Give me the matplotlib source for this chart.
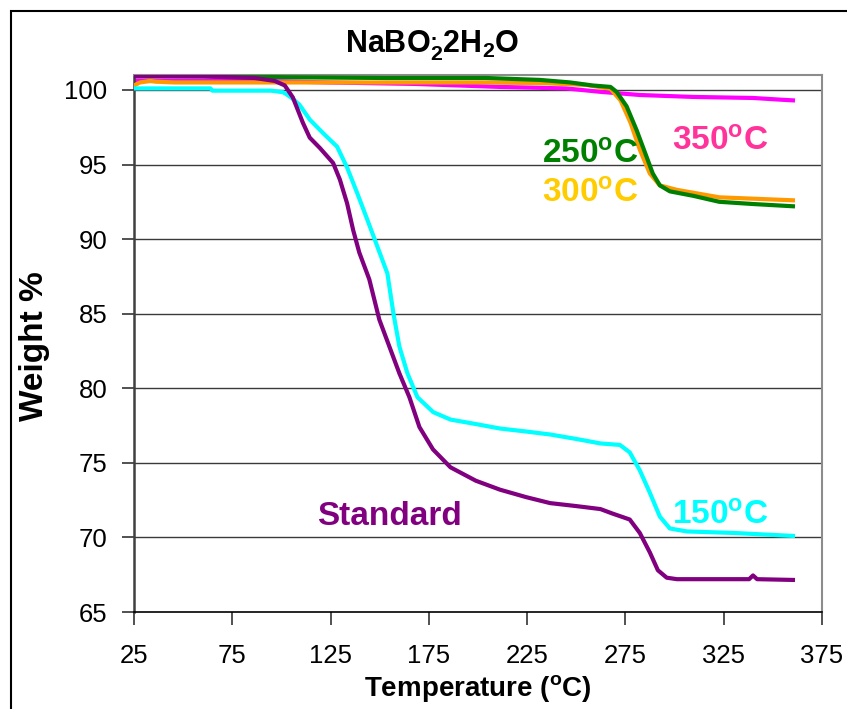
import matplotlib
matplotlib.use("Agg")
import matplotlib.pyplot as plt
from matplotlib.patches import Rectangle

plt.rcParams['font.family'] = ['Liberation Sans', 'DejaVu Sans']
plt.rcParams['mathtext.fontset'] = 'custom'
plt.rcParams['mathtext.rm'] = 'Liberation Sans'
plt.rcParams['mathtext.bf'] = 'Liberation Sans:bold'
plt.rcParams['mathtext.it'] = 'Liberation Sans:italic'

# ---- data ----
std_T = [25, 60.8, 86.4, 96.6, 101.7, 105.8, 110.9, 114.4, 119.6, 126.3, 129.7, 133.4, 136.5,
         139.6, 144.7, 149.8, 154.9, 160.0, 165.1, 170.2, 177.1, 186.0, 198.9, 211.2, 224.5,
         236.7, 250.0, 262.3, 268.4, 277.2, 282.3, 287.4, 291.5, 296.0, 301.2, 316.5, 337.9,
         339.9, 342.0, 360.2]
std_W = [100.9, 100.9, 100.8, 100.6, 100.3, 99.5, 97.8, 96.8, 96.1, 95.1, 94.0, 92.4, 90.6,
         89.1, 87.3, 84.6, 82.8, 81.0, 79.4, 77.4, 75.9, 74.7, 73.8, 73.2, 72.7, 72.3, 72.1,
         71.9, 71.6, 71.2, 70.3, 69.0, 67.8, 67.3, 67.2, 67.2, 67.2, 67.45, 67.2, 67.15]

c150_T = [25, 63.9, 64.9, 94.6, 100.7, 102.7, 105.8, 109.2, 114.5, 121.2, 128.3, 133.4, 138.5,
          143.7, 148.8, 153.9, 157.0, 160.0, 164.1, 169.2, 177.2, 186.0, 198.9, 211.2, 224.5,
          236.7, 250.0, 262.3, 272.2, 277.2, 282.3, 287.4, 292.5, 297.6, 306.3, 329.8, 360.2]
c150_W = [100.1, 100.1, 99.95, 99.95, 99.85, 99.7, 99.4, 99.0, 98.0, 97.1, 96.2, 94.8, 93.1,
          91.3, 89.5, 87.7, 85.0, 82.8, 81.0, 79.4, 78.4, 77.9, 77.6, 77.3, 77.1, 76.9, 76.6,
          76.3, 76.2, 75.7, 74.5, 73.0, 71.4, 70.6, 70.4, 70.3, 70.1]

c250_T = [25, 76.1, 101.7, 152.9, 204.0, 231.6, 247.0, 258.2, 267.4, 270.5, 275.6, 280.7,
          285.8, 288.9, 292.5, 297.6, 309.5, 322.7, 340.0, 360.2]
c250_W = [100.95, 100.9, 100.85, 100.8, 100.8, 100.67, 100.5, 100.3, 100.2, 99.87, 98.9, 97.3,
          95.5, 94.4, 93.6, 93.2, 92.9, 92.5, 92.35, 92.2]

c300_T = [25, 28.1, 33.2, 36.3, 45.5, 101.7, 152.9, 204.0, 234.7, 255.2, 267.4, 272.5, 277.6,
          282.3, 287.4, 292.5, 301.2, 322.7, 360.2]
c300_W = [100.3, 100.5, 100.6, 100.55, 100.5, 100.5, 100.5, 100.5, 100.45, 100.33, 100.07,
          99.3, 97.8, 96.0, 94.4, 93.6, 93.3, 92.8, 92.6]

c350_T = [25, 91.5, 124.2, 168.2, 211.2, 244.9, 262.3, 282.3, 309.4, 340.0, 353.4, 360.2]
c350_W = [100.6, 100.6, 100.5, 100.4, 100.2, 100.1, 99.87, 99.66, 99.53, 99.46, 99.35, 99.3]

x_ticks = [25, 75, 125, 175, 225, 275, 325, 375]
y_ticks = [65, 70, 75, 80, 85, 90, 95, 100]

# ---- figure ----
fig = plt.figure(figsize=(8.47, 7.09), dpi=100)
ax = fig.add_axes([134/847, 1-612/709, 688/847, 537/709])

for yv in y_ticks[1:]:
    ax.axhline(yv, color='#3a3a3a', lw=1.0, zorder=1)

ax.plot(c350_T, c350_W, color='#FF00FF', lw=3, zorder=2)
ax.plot(c300_T, c300_W, color='#FF9900', lw=3, zorder=3)
ax.plot(c250_T, c250_W, color='#008000', lw=3, zorder=4)
ax.plot(c150_T, c150_W, color='#00FFFF', lw=3, zorder=5)
ax.plot(std_T, std_W, color='#800080', lw=3, zorder=6)

ax.set_xlim(25, 375)
ax.set_ylim(65, 101.0)
ax.set_xticks(x_ticks)
ax.set_yticks(y_ticks)
ax.tick_params(axis='both', labelsize=18.5, direction='out', length=9, width=1.2, color='#333333')
ax.tick_params(axis='x', pad=14)
ax.tick_params(axis='y', pad=10)

for s in ['top', 'right']:
    ax.spines[s].set_color('#8c8c8c')
    ax.spines[s].set_linewidth(1.5)
ax.spines['left'].set_color('#404040')
ax.spines['left'].set_linewidth(1.8)
ax.spines['bottom'].set_color('#000000')
ax.spines['bottom'].set_linewidth(1.2)

lab_kw = dict(fontsize=24, fontweight='bold', ha='center', va='center', zorder=10)
ax.text(257, 95.6, '250$^{\\mathbf{o}}$C', color='#008000', **lab_kw)
ax.text(323, 96.5, '350$^{\\mathbf{o}}$C', color='#FF3399', **lab_kw)
ax.text(257, 93.0, '300$^{\\mathbf{o}}$C', color='#FFCC00', **lab_kw)
ax.text(323, 71.4, '150$^{\\mathbf{o}}$C', color='#00FFFF', **lab_kw)
ax.text(155, 71.4, 'Standard', color='#800080', **lab_kw)

fig.text(432/847, 1-46/709, 'NaBO$_{\\mathbf{2}}^{\\mathbf{.}}$2H$_{\\mathbf{2}}$O',
         fontsize=22, fontweight='bold', ha='center', va='center')
fig.text(478/847, 1-688/709, 'Temperature ($^{\\mathbf{o}}$C)',
         fontsize=20, fontweight='bold', ha='center', va='center')
fig.text(35/847, 1-346/709, 'Weight %', rotation=90,
         fontsize=24, fontweight='bold', ha='center', va='center')

fig.patches.append(Rectangle((11/847, -0.1), 1.2, 1.1 - 11/709, transform=fig.transFigure,
                             fill=False, edgecolor='black', lw=1.5, clip_on=False))

fig.savefig('out.png', dpi=100)
